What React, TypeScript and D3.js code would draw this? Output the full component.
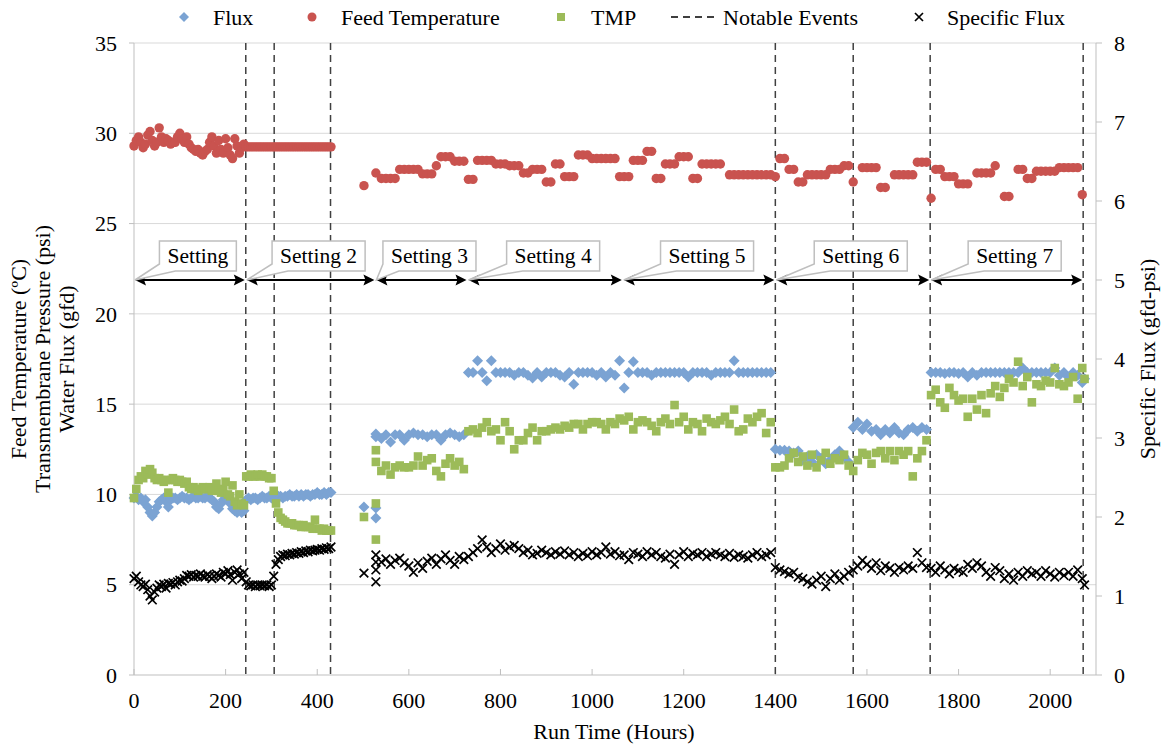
import React, { useMemo } from "react";
import * as d3 from "d3";

// ---------- data ----------
// dense logging period, 0-430 h
const hoursDense = [
  0, 5, 10, 15, 20, 25, 30, 35, 40, 45,
  50, 55, 60, 65, 70, 75, 80, 85, 90, 95,
  100, 105, 110, 115, 120, 125, 130, 135, 140, 145,
  150, 155, 160, 165, 170, 175, 180, 185, 190, 195,
  200, 205, 210, 215, 220, 225, 230, 235, 240, 245,
  250, 255, 260, 265, 270, 275, 280, 285, 290, 295,
  300, 305, 310, 315, 320, 325, 330, 335, 340, 345,
  350, 355, 360, 365, 370, 375, 380, 385, 390, 395,
  400, 405, 410, 415, 420, 425, 430,
];

const fluxDense = [
  9.8, 9.9, 9.7, 9.8, 9.6, 9.7, 9.3, 9.0, 8.8, 9.0,
  9.3, 9.6, 9.7, 9.8, 9.6, 9.3, 9.7, 9.8, 9.8, 9.7,
  9.8, 9.9, 9.8, 9.8, 9.7, 9.8, 9.9, 9.8, 9.8, 9.9,
  9.8, 9.8, 9.9, 9.8, 9.7, 9.6, 9.3, 9.2, 9.5, 9.7,
  9.8, 9.7, 9.5, 9.2, 9.1, 9.0, 9.2, 9.0, 9.1, 9.7,
  9.8, 9.7, 9.8, 9.8, 9.7, 9.8, 9.9, 9.8, 9.8, 9.9,
  9.8, 9.9, 9.8, 9.9, 9.9, 9.8, 9.9, 9.9, 10.0, 9.9,
  9.9, 10.0, 9.9, 10.0, 9.9, 10.0, 10.0, 9.9, 10.0, 10.0,
  10.1, 10.0, 10.0, 10.1, 10.0, 10.1, 10.1,
];

const tmpDense = [
  9.8, 10.3, 10.8, 11.0, 10.9, 11.3, 11.1, 11.4, 11.2, 10.9,
  10.8, 10.9, 10.8, 10.7, 10.8, 10.1, 10.8, 10.9, 10.8, 10.7,
  10.8, 10.7, 10.6, 10.7, 10.4, 10.3, 10.4, 10.3, 10.2, 10.3,
  10.4, 10.3, 10.3, 10.4, 10.2, 10.3, 10.6, 10.2, 10.1, 10.3,
  10.7, 10.0, 9.9, 10.5, 9.6, 9.4, 10.0, 9.5, 9.4, 11.0,
  11.0, 11.1, 11.0, 11.0, 11.1, 11.0, 11.1, 11.0, 11.0, 10.9,
  10.9, 10.2, 9.5, 9.0, 8.7, 8.6, 8.5, 8.4, 8.4, 8.4,
  8.3, 8.3, 8.3, 8.2, 8.3, 8.2, 8.2, 8.2, 8.1, 8.6,
  8.1, 8.1, 8.0, 8.1, 8.0, 8.0, 8.0,
];

const specDense = [
  1.22, 1.25, 1.18, 1.14, 1.12, 1.15, 1.08, 1.0, 0.95, 1.05,
  1.1, 1.14, 1.12, 1.15, 1.1, 1.16, 1.15, 1.17, 1.14, 1.18,
  1.2, 1.19, 1.22, 1.26, 1.25, 1.27, 1.24, 1.26, 1.25, 1.28,
  1.25, 1.24, 1.27, 1.25, 1.22, 1.25, 1.28, 1.26, 1.24, 1.3,
  1.28, 1.32, 1.27, 1.2, 1.3, 1.33, 1.28, 1.22, 1.3, 1.18,
  1.14, 1.13, 1.14, 1.12, 1.14, 1.13, 1.14, 1.13, 1.14, 1.12,
  1.14, 1.25, 1.4, 1.46, 1.5, 1.52, 1.51, 1.53, 1.52, 1.54,
  1.53, 1.55, 1.54, 1.56, 1.55, 1.57, 1.56, 1.58, 1.57, 1.58,
  1.59, 1.58, 1.6, 1.59, 1.61, 1.6, 1.62,
];

const tempDense = [
  29.3, 29.6, 29.8, 29.5, 29.2, 29.4, 29.9, 30.1, 29.6, 29.3,
  29.5, 30.3, 29.8, 29.5, 29.7, 29.6, 29.4, 29.5, 29.5, 29.8,
  30.0, 29.7, 29.5, 29.8, 29.4, 29.2, 29.1, 29.0, 29.1, 28.9,
  28.8, 29.0, 29.1, 29.5, 29.8, 29.3, 28.9, 29.6, 29.1, 28.9,
  29.7, 29.2, 28.8, 28.6, 29.7, 29.3, 28.9, 29.2, 29.4, 29.25,
  29.25, 29.25, 29.25, 29.25, 29.25, 29.25, 29.25, 29.25, 29.25, 29.25,
  29.25, 29.25, 29.25, 29.25, 29.25, 29.25, 29.25, 29.25, 29.25, 29.25,
  29.25, 29.25, 29.25, 29.25, 29.25, 29.25, 29.25, 29.25, 29.25, 29.25,
  29.25, 29.25, 29.25, 29.25, 29.25, 29.25, 29.25,
];

// sparser logging, 500-2075 h
const hoursSparse = [
  502, 528, 528, 528, 528, 540, 550, 560, 570, 580,
  590, 600, 610, 620, 630, 640, 650, 660, 670, 680,
  690, 700, 710, 720, 730, 740, 750, 760, 770, 780,
  790, 800, 810, 820, 830, 840, 850, 860, 870, 880,
  890, 900, 910, 920, 930, 940, 950, 960, 970, 980,
  990, 1000, 1010, 1020, 1030, 1040, 1050, 1060, 1070, 1080,
  1090, 1100, 1110, 1120, 1130, 1140, 1150, 1160, 1170, 1180,
  1190, 1200, 1210, 1220, 1230, 1240, 1250, 1260, 1270, 1280,
  1290, 1300, 1310, 1320, 1330, 1340, 1350, 1360, 1370, 1380,
  1390, 1400, 1410, 1420, 1430, 1440, 1450, 1460, 1470, 1480,
  1490, 1500, 1510, 1520, 1530, 1540, 1550, 1560, 1570, 1580,
  1590, 1600, 1610, 1620, 1630, 1640, 1650, 1660, 1670, 1680,
  1690, 1700, 1710, 1720, 1730, 1740, 1750, 1760, 1770, 1780,
  1790, 1800, 1810, 1820, 1830, 1840, 1850, 1860, 1870, 1880,
  1890, 1900, 1910, 1920, 1930, 1940, 1950, 1960, 1970, 1980,
  1990, 2000, 2010, 2020, 2030, 2040, 2050, 2060, 2070, 2075,
];

const fluxSparse = [
  9.3, 9.25, 8.7, 13.35, 13.2, 13.1, 13.3, 12.9, 13.3, 13.3,
  13.0, 13.3, 13.4, 13.3, 13.3, 13.2, 13.3, 13.3, 13.0, 13.3,
  13.4, 13.3, 13.2, 13.3, 16.75, 16.75, 17.4, 16.75, 16.3, 17.4,
  16.75, 16.75, 16.75, 16.75, 16.6, 16.75, 16.75, 16.6, 16.45, 16.75,
  16.5, 16.75, 16.75, 16.75, 16.6, 16.5, 16.75, 16.1, 16.75, 16.75,
  16.75, 16.75, 16.6, 16.75, 16.5, 16.75, 16.6, 17.4, 15.9, 16.75,
  17.35, 16.75, 16.75, 16.75, 16.6, 16.75, 16.75, 16.75, 16.75, 16.75,
  16.75, 16.75, 16.5, 16.75, 16.75, 16.75, 16.75, 16.6, 16.75, 16.75,
  16.75, 16.75, 17.4, 16.75, 16.75, 16.75, 16.75, 16.75, 16.75, 16.75,
  16.75, 12.5, 12.45, 12.45, 12.4, 12.3, 12.4, 11.9, 12.1, 11.8,
  12.2, 12.0, 11.7, 11.9, 12.2, 12.4, 12.1, 11.8, 13.7, 14.0,
  13.6, 13.9, 13.5, 13.6, 13.3, 13.6, 13.4, 13.7, 13.4, 13.3,
  13.6, 13.7, 13.5, 13.7, 13.6, 16.75, 16.75, 16.75, 16.7, 16.75,
  16.75, 16.7, 16.75, 16.5, 16.75, 16.6, 16.75, 16.75, 16.75, 16.75,
  16.75, 16.75, 16.75, 16.75, 16.75, 17.0, 16.75, 16.75, 16.75, 16.75,
  16.75, 16.75, 17.0, 16.6, 16.75, 16.5, 16.75, 16.6, 16.2, 16.4,
];

const tmpSparse = [
  8.75, 9.5, 7.5, 12.45, 11.8, 11.3, 11.6, 11.1, 11.5, 11.6,
  11.5, 11.5, 11.6, 12.1, 11.6, 11.9, 12.0, 11.3, 11.0, 11.7,
  12.0, 11.6, 11.8, 11.4, 13.5, 13.6, 13.4, 13.7, 14.0, 13.5,
  13.6, 13.0, 14.0, 13.5, 12.5, 13.0, 13.0, 13.4, 13.7, 13.0,
  13.5, 13.5, 13.6, 13.7, 13.6, 13.8, 13.7, 13.9, 13.9, 13.6,
  13.9, 14.0, 14.0, 13.9, 13.6, 14.0, 13.9, 14.2, 14.1, 14.3,
  13.6, 14.0, 14.1, 14.0, 13.8, 13.5, 14.0, 14.2, 13.9, 14.95,
  14.0, 14.3, 13.6, 14.0, 13.9, 13.5, 14.2, 14.0, 13.9, 14.1,
  14.3, 13.9, 14.7, 13.5, 13.6, 14.2, 14.0, 14.3, 14.5, 13.4,
  14.0, 11.5, 11.5, 11.6, 12.0, 12.3, 11.8, 12.1, 11.6, 12.2,
  11.5, 11.9, 12.3, 11.7, 12.0, 11.9, 12.2, 11.6, 11.3, 11.9,
  12.3, 12.2, 11.7, 12.3, 12.4, 12.0, 12.4, 11.9, 12.4, 12.2,
  12.4, 11.0, 12.0, 12.4, 13.0, 15.5, 15.8, 15.1, 14.8, 15.9,
  15.5, 15.2, 15.3, 14.3, 15.3, 14.7, 15.5, 14.5, 15.6, 16.0,
  15.4, 15.9, 16.4, 16.2, 17.35, 16.0, 16.5, 15.1, 16.1, 16.0,
  16.3, 16.2, 17.0, 16.1, 16.0, 16.2, 16.5, 15.3, 17.0, 16.4,
];

const specSparse = [
  1.29, 1.52, 1.43, 1.33, 1.18, 1.43, 1.47, 1.4, 1.45, 1.48,
  1.42, 1.38, 1.3, 1.42, 1.35, 1.44, 1.48, 1.4, 1.47, 1.52,
  1.45, 1.4, 1.5, 1.46, 1.5, 1.55, 1.6, 1.71, 1.62, 1.55,
  1.6, 1.66, 1.58, 1.62, 1.64, 1.6, 1.55, 1.58, 1.52, 1.54,
  1.58, 1.55, 1.52, 1.56, 1.53, 1.57, 1.52, 1.55, 1.5, 1.54,
  1.51, 1.56, 1.52, 1.55, 1.62, 1.53, 1.56, 1.51, 1.52, 1.46,
  1.55, 1.53, 1.5, 1.56, 1.52, 1.55, 1.5, 1.48, 1.53, 1.4,
  1.52, 1.56, 1.5, 1.54, 1.52, 1.55, 1.5, 1.53, 1.55, 1.52,
  1.5, 1.54, 1.49, 1.52, 1.5, 1.48, 1.52, 1.55, 1.5, 1.52,
  1.55, 1.36, 1.33, 1.31, 1.28, 1.3, 1.24, 1.22, 1.18, 1.15,
  1.2, 1.25, 1.12, 1.22, 1.28, 1.2, 1.25, 1.3, 1.33, 1.38,
  1.45, 1.4, 1.35, 1.42, 1.32, 1.38, 1.35, 1.3, 1.36, 1.33,
  1.38, 1.35, 1.55, 1.42, 1.36, 1.35, 1.3, 1.38, 1.33, 1.28,
  1.35, 1.32, 1.3, 1.4, 1.35, 1.42, 1.38, 1.3, 1.25, 1.36,
  1.32, 1.22, 1.28, 1.2, 1.3, 1.25, 1.32, 1.28, 1.3, 1.25,
  1.32, 1.28, 1.24, 1.3, 1.26, 1.3, 1.25, 1.33, 1.22, 1.14,
];

const tempSparse = [
  27.1, 27.8, null, null, null, 27.5, 27.5, 27.5, 27.5, 28.0,
  28.0, 28.0, 28.0, 28.0, 27.75, 27.75, 27.75, 28.2, 28.7, 28.7,
  28.7, 28.45, 28.45, 28.45, 27.45, 27.45, 28.5, 28.5, 28.5, 28.5,
  28.3, 28.3, 28.3, 28.2, 28.2, 28.2, 27.8, 27.8, 28.0, 28.0,
  28.0, 27.3, 27.3, 28.3, 28.3, 27.6, 27.6, 27.6, 28.8, 28.8,
  28.8, 28.6, 28.6, 28.6, 28.6, 28.6, 28.6, 27.6, 27.6, 27.6,
  28.5, 28.5, 28.5, 29.0, 29.0, 27.5, 27.5, 28.3, 28.3, 28.3,
  28.7, 28.7, 28.7, 27.5, 27.5, 28.3, 28.3, 28.3, 28.3, 28.3,
  null, 27.7, 27.7, 27.7, 27.7, 27.7, 27.7, 27.7, 27.7, 27.7,
  27.7, 27.6, 28.6, 28.6, 28.0, 28.0, 27.3, 27.3, 27.7, 27.7,
  27.7, 27.7, 27.7, 28.0, 28.0, 28.0, 28.2, 28.2, 27.3, null,
  28.1, 28.1, 28.1, 28.1, 27.0, 27.0, null, 27.7, 27.7, 27.7,
  27.7, 27.7, 28.4, 28.4, 28.4, 26.4, 28.0, 28.0, 27.6, 27.6,
  27.6, 27.2, 27.2, 27.2, null, 27.8, 27.8, 27.8, 27.8, 28.2,
  null, 26.5, 26.5, null, 28.0, 28.0, 27.5, 27.5, 27.9, 27.9,
  27.9, 27.9, 27.9, 28.1, 28.1, 28.1, 28.1, 28.1, 26.6, null,
];

const settingLabels = ["Setting", "Setting 2", "Setting 3", "Setting 4", "Setting 5", "Setting 6", "Setting 7"];
const settingBounds = [0, 244, 527, 728, 1067, 1400, 1738, 2072];
const eventHours = [244, 306, 429, 1400, 1570, 1738, 2072];
const xTicks = [0, 200, 400, 600, 800, 1000, 1200, 1400, 1600, 1800, 2000];
const leftTicks = [0, 5, 10, 15, 20, 25, 30, 35];
const rightTicks = [0, 1, 2, 3, 4, 5, 6, 7, 8];
const settingLevel = 5; // specific-flux axis value where the arrows sit

const FONT = '"Liberation Serif", "Times New Roman", Times, "DejaVu Serif", serif';
const BLUE = "#7BA3D3";
const RED = "#C9534F";
const GREEN = "#9CBB59";

const x = d3.scaleLinear().domain([0, 2100]).range([134, 1096]);
const yL = d3.scaleLinear().domain([0, 35]).range([675, 43]);
const yR = d3.scaleLinear().domain([0, 8]).range([675, 43]);

const join = (hA, vA, hB, vB) => {
  const pts = [];
  hA.forEach((h, i) => { if (vA[i] != null) pts.push([h, vA[i]]); });
  hB.forEach((h, i) => { if (vB[i] != null) pts.push([h, vB[i]]); });
  return pts;
};

const diamond = (r) => `M0,${-r}L${r},0L0,${r}L${-r},0Z`;
const cross = (r) => `M${-r},${-r}L${r},${r}M${-r},${r}L${r},${-r}`;

const T = (props) => <text style={{ fontFamily: FONT }} fill="#000" {...props} />;

export default function App() {
  const flux = join(hoursDense, fluxDense, hoursSparse, fluxSparse);
  const temp = join(hoursDense, tempDense, hoursSparse, tempSparse);
  const tmp = join(hoursDense, tmpDense, hoursSparse, tmpSparse);
  const spec = join(hoursDense, specDense, hoursSparse, specSparse);

  const widths = useMemo(() => {
    const ctx = document.createElement("canvas").getContext("2d");
    ctx.font = `21.5px ${FONT}`;
    return settingLabels.map((l) => ctx.measureText(l).width);
  }, []);

  const left = x.range()[0];
  const right = x.range()[1];
  const top = yL.range()[1];
  const bottom = yL.range()[0];
  const ay = yR(settingLevel);

  return (
    <svg width={1161} height={745} style={{ position: "absolute", left: 0, top: 0, background: "#fff", fontFamily: FONT }}>
      {/* grid */}
      {leftTicks.filter((t) => t > 0).map((t) => (
        <line key={"g" + t} x1={left} x2={right} y1={yL(t)} y2={yL(t)} stroke="#d9d9d9" strokeWidth={1} />
      ))}
      {/* axes */}
      <line x1={left} x2={left} y1={top} y2={bottom} stroke="#bfbfbf" />
      <line x1={right} x2={right} y1={top} y2={bottom} stroke="#bfbfbf" />
      <line x1={left} x2={right} y1={bottom} y2={bottom} stroke="#bfbfbf" />
      {leftTicks.map((t) => (
        <g key={"l" + t}>
          <line x1={left - 5} x2={left} y1={yL(t)} y2={yL(t)} stroke="#bfbfbf" />
          <T x={117} y={yL(t)} dy="0.35em" textAnchor="end" fontSize={22}>{t}</T>
        </g>
      ))}
      {rightTicks.map((t) => (
        <g key={"r" + t}>
          <line x1={right} x2={right + 6} y1={yR(t)} y2={yR(t)} stroke="#bfbfbf" />
          <T x={1114} y={yR(t)} dy="0.35em" textAnchor="start" fontSize={22}>{t}</T>
        </g>
      ))}
      {xTicks.map((t) => (
        <g key={"x" + t}>
          <line x1={x(t)} x2={x(t)} y1={bottom} y2={bottom - 6} stroke="#bfbfbf" />
          <T x={x(t)} y={708} textAnchor="middle" fontSize={22}>{t}</T>
        </g>
      ))}

      {/* axis titles */}
      <T x={614} y={739} textAnchor="middle" fontSize={22}>Run Time (Hours)</T>
      <g transform={`translate(0,${(top + bottom) / 2}) rotate(-90)`}>
        <T x={0} y={26} textAnchor="middle" fontSize={22}>Feed Temperature (ºC)</T>
        <T x={0} y={50} textAnchor="middle" fontSize={22}>Transmembrane Pressure (psi)</T>
        <T x={0} y={74} textAnchor="middle" fontSize={22}>Water Flux (gfd)</T>
      </g>
      <T transform={`translate(1155,${(top + bottom) / 2}) rotate(-90)`} textAnchor="middle" fontSize={22}>
        Specific Flux (gfd-psi)
      </T>

      {/* notable events */}
      {eventHours.map((h) => (
        <line key={"e" + h} x1={x(h)} x2={x(h)} y1={top} y2={bottom} stroke="#404040"
          strokeWidth={1.5} strokeDasharray="7,5" />
      ))}

      {/* series */}
      <g fill={BLUE}>
        {flux.map(([h, v], i) => (
          <path key={i} d={diamond(5.5)} transform={`translate(${x(h)},${yL(v)})`} />
        ))}
      </g>
      <g fill={RED}>
        {temp.map(([h, v], i) => (
          <circle key={i} cx={x(h)} cy={yL(v)} r={4.7} />
        ))}
      </g>
      <g fill={GREEN}>
        {tmp.map(([h, v], i) => (
          <rect key={i} x={x(h) - 4.3} y={yL(v) - 4.3} width={8.6} height={8.6} />
        ))}
      </g>
      <g stroke="#000" strokeWidth={1.7} fill="none">
        {spec.map(([h, v], i) => (
          <path key={i} d={cross(4.3)} transform={`translate(${x(h)},${yR(v)})`} />
        ))}
      </g>

      {/* setting arrows and callouts */}
      {settingLabels.map((label, i) => {
        const x1 = x(settingBounds[i]);
        const x2 = x(settingBounds[i + 1]);
        const w = widths[i] + 16;
        const cx = (x1 + x2) / 2 + 8;
        const bx = cx - w / 2;
        const by = 241;
        const bh = 30;
        const ax = x1 + 1;
        const callout = `M${bx},${by}H${bx + w}V${by + bh}H${bx + 16}L${ax},${ay}L${bx},${by + bh - 7}Z`;
        return (
          <g key={label}>
            <line x1={x1 + 9} x2={x2 - 9} y1={ay} y2={ay} stroke="#000" strokeWidth={2} />
            <path d={`M${x1 + 1},${ay}L${x1 + 12},${ay - 5.5}L${x1 + 10},${ay}L${x1 + 12},${ay + 5.5}Z`} fill="#000" />
            <path d={`M${x2 - 1},${ay}L${x2 - 12},${ay - 5.5}L${x2 - 10},${ay}L${x2 - 12},${ay + 5.5}Z`} fill="#000" />
            <path d={callout} fill="#fff" stroke="#bfbfbf" strokeWidth={1.5} />
            <T x={cx} y={by + 22} textAnchor="middle" fontSize={21.5}>{label}</T>
          </g>
        );
      })}

      {/* legend */}
      <g>
        <path d={diamond(5)} transform="translate(184,17)" fill={BLUE} />
        <T x={213} y={25} fontSize={22}>Flux</T>
        <circle cx={312} cy={17} r={4.5} fill={RED} />
        <T x={341} y={25} fontSize={22}>Feed Temperature</T>
        <rect x={557} y={13} width={8} height={8} fill={GREEN} />
        <T x={591} y={25} fontSize={22}>TMP</T>
        <line x1={671} x2={719} y1={17} y2={17} stroke="#000" strokeWidth={1.5} strokeDasharray="7,5" />
        <T x={723} y={25} fontSize={22}>Notable Events</T>
        <path d={cross(4)} transform="translate(919,17)" stroke="#000" strokeWidth={1.7} />
        <T x={947} y={25} fontSize={22}>Specific Flux</T>
      </g>
    </svg>
  );
}
